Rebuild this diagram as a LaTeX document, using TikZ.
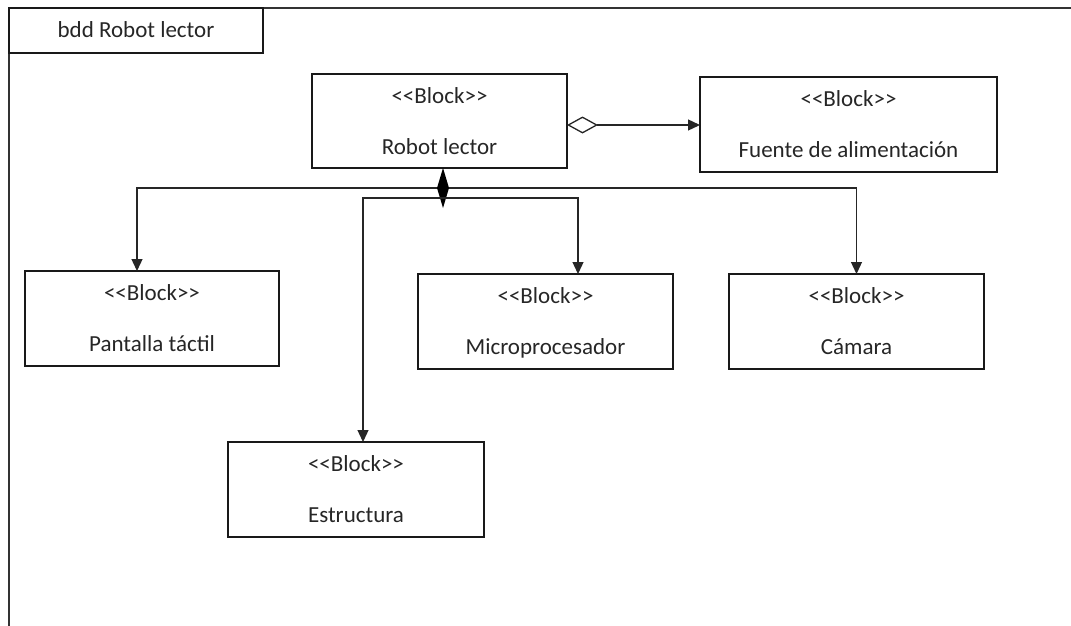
\documentclass[tikz,border=0pt]{standalone}
\usepackage{fontspec}
\newfontfamily\diagfont{Carlito}
\usetikzlibrary{arrows.meta,shapes.geometric}

% one SysML block: frame, stereotype line and block name
\newcommand{\sysblock}[6]{%
  \node[blockbox, minimum width=#4, minimum height=#5] (#1) at (#2,#3) {};
  \node[txt] (#1-st) at ([yshift=-29.5pt]#1.north) {<<Block>>};
  \node[txt] (#1-nm) at ([yshift=-80.5pt]#1.north) {#6};
}

\begin{document}
\begin{tikzpicture}[x=1pt,y=-1pt,
  blockbox/.style={draw=black!90, line width=1.2pt, inner sep=0pt, outer sep=0pt},
  txt/.style={anchor=base, inner sep=0pt, outer sep=0pt,
              font=\diagfont\fontsize{23}{28}\selectfont, text=black!85},
  frameline/.style={draw=black!80, line width=1.6pt},
  link/.style={draw=black!85, line width=1.3pt, -{Triangle[length=12pt,width=11pt]}},
  aggr/.style={draw=black!85, line width=1.3pt,
               {Diamond[open,fill=white,length=31pt,width=17pt]}-{Triangle[length=12pt,width=11pt]}},
  compdiam/.style={diamond, fill=black, draw=none, minimum width=12pt,
                   minimum height=40pt, inner sep=0pt, outer sep=0pt}]

  \useasboundingbox (0,0) rectangle (1071,626);

  % diagram frame and name tab
  \draw[frameline] (1071,8) -- (9,8) -- (9,626);
  \node[blockbox, minimum width=254pt, minimum height=45pt, anchor=north west] (tab) at (9,8) {};
  \node[txt] (tab-txt) at (136,37.5) {bdd Robot lector};

  % blocks
  \sysblock{robot}{439.5}{121}{255pt}{94pt}{Robot lector}
  \sysblock{fuente}{848.5}{124.5}{297pt}{95pt}{Fuente de alimentación}
  \sysblock{pant}{152}{318.5}{254pt}{95pt}{Pantalla táctil}
  \sysblock{micro}{545.5}{321.5}{255pt}{95pt}{Microprocesador}
  \sysblock{cam}{856.5}{321.5}{255pt}{95pt}{Cámara}
  \sysblock{estr}{356}{489.5}{256pt}{95pt}{Estructura}

  % aggregation to the power supply
  \coordinate (aggsrc) at ([yshift=-4pt]robot.east);
  \draw[aggr] (aggsrc) -- (aggsrc -| fuente.west);

  % composition to the parts
  \node[compdiam, anchor=north] (comp) at ([xshift=3.5pt]robot.south) {};
  \coordinate (lowbus) at ([yshift=-10pt]comp.center);
  \draw[link] (comp.west) -| ([xshift=-15pt]pant.north);
  \draw[link] (comp.east) -| (cam.north);
  \draw[link] (lowbus) -| ([xshift=7pt]estr.north);
  \draw[link] (lowbus) -| ([xshift=32.5pt]micro.north);
\end{tikzpicture}
\end{document}
